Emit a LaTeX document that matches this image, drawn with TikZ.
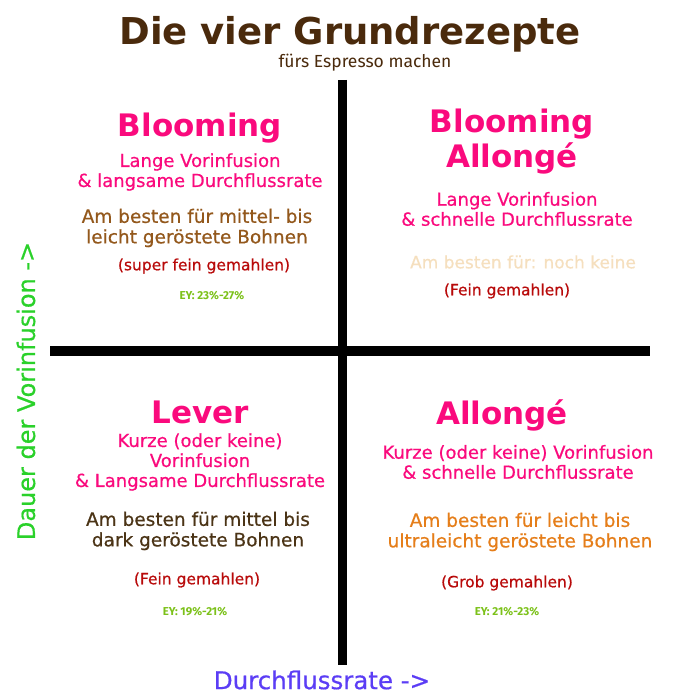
\documentclass[tikz,border=0pt]{standalone}
\usepackage{fontspec}
\setmainfont{DejaVu Sans}
\newfontfamily\medfont{DejaVu Sans}[FakeBold=0.6]
\newfontfamily\smallfont{Fira Sans}
\usetikzlibrary{positioning}

\definecolor{titlebrown}{HTML}{4A2A0C}
\definecolor{headpink}{HTML}{FA0A7D}
\definecolor{beanbrown}{HTML}{93581C}
\definecolor{grindred}{HTML}{B80A0A}
\definecolor{eygreen}{HTML}{7CC11A}
\definecolor{palebeige}{HTML}{F5DFBE}
\definecolor{darkbean}{HTML}{4B3416}
\definecolor{orangebean}{HTML}{E57E1A}
\definecolor{axisgreen}{HTML}{2AD12A}
\definecolor{axisblue}{HTML}{5B3DF5}

\tikzset{
	recipestyle/.style={inner sep=0pt, text=headpink, align=center, font=\bfseries\fontsize{31}{35}\selectfont},
	descstyle/.style={inner sep=0pt, text=headpink, align=center, font=\medfont\fontsize{18}{20}\selectfont},
	beanstyle/.style={inner sep=0pt, align=center, font=\medfont\fontsize{18.5}{20.5}\selectfont},
	grindstyle/.style={inner sep=0pt, text=grindred, font=\medfont\fontsize{15.5}{17}\selectfont},
	eystyle/.style={inner sep=0pt, text=eygreen, font=\smallfont\bfseries\fontsize{11.5}{12}\selectfont},
	axisline/.style={draw=black, line cap=butt}
}

\begin{document}
\begin{tikzpicture}[x=1pt, y=-1pt]
\useasboundingbox (0,0) rectangle (700,700);

\def\xl{200}
\def\xr{512}

% title
\node[inner sep=0pt, text=titlebrown, font=\bfseries\fontsize{37}{40}\selectfont] (title) at (350,34) {Die vier Grundrezepte};
\node[inner sep=0pt, text=titlebrown, font=\smallfont\fontsize{17.5}{18}\selectfont] (subtitle) at (365,63) {fürs Espresso machen};

% axes
\coordinate (vtop) at (342.5,80);
\coordinate (vbot) at (342.5,665);
\coordinate (hleft) at (50,351);
\coordinate (hright) at (650,351);
\draw[axisline, line width=9pt] (vtop)--(vbot);
\draw[axisline, line width=10pt] (hleft)--(hright);

% top left
\node[recipestyle] (bloom) at (\xl,128) {Blooming};
\node[descstyle] (bloomdesc) at (\xl,172) {Lange Vorinfusion\\\& langsame Durchflussrate};
\node[beanstyle, text=beanbrown] (bloombean) at (197,228) {Am besten für mittel- bis\\leicht geröstete Bohnen};
\node[grindstyle] (bloomgrind) at (204,266) {(super fein gemahlen)};
\node[eystyle] (bloomey) at (212,296) {EY: 23\%-27\%};

% top right
\node[recipestyle] (ballonge) at (\xr,142) {Blooming\\Allongé};
\node[descstyle] (ballongedesc) at (517,209) {Lange Vorinfusion\\\& schnelle Durchflussrate};
\node[beanstyle, text=palebeige, font=\medfont\fontsize{17}{20}\selectfont] (ballongebean) at (523,262) {Am besten für: noch keine};
\node[grindstyle] (ballongegrind) at (507,291) {(Fein gemahlen)};

% bottom left
\node[recipestyle] (lever) at (\xl,412) {Lever};
\node[descstyle] (leverdesc) at (\xl,462) {Kurze (oder keine)\\Vorinfusion\\\& Langsame Durchflussrate};
\node[beanstyle, text=darkbean] (leverbean) at (198,531) {Am besten für mittel bis\\dark geröstete Bohnen};
\node[grindstyle] (levergrind) at (197,580) {(Fein gemahlen)};
\node[eystyle] (leverey) at (195,612) {EY: 19\%-21\%};

% bottom right
\node[recipestyle] (allonge) at (502,415) {Allongé};
\node[descstyle] (allongedesc) at (518,462) {Kurze (oder keine) Vorinfusion\\\& schnelle Durchflussrate};
\node[beanstyle, text=orangebean] (allongebean) at (520,532) {Am besten für leicht bis\\ultraleicht geröstete Bohnen};
\node[grindstyle] (allongegrind) at (507,583) {(Grob gemahlen)};
\node[eystyle] (allongeey) at (507,612) {EY: 21\%-23\%};

% axis labels
\node[inner sep=0pt, rotate=90, text=axisgreen, font=\medfont\fontsize{24}{26}\selectfont] (ylabel) at (26,391) {Dauer der Vorinfusion ->};
\node[inner sep=0pt, text=axisblue, font=\medfont\fontsize{24.5}{26}\selectfont] (xlabel) at (322,680) {Durchflussrate ->};
\end{tikzpicture}
\end{document}
